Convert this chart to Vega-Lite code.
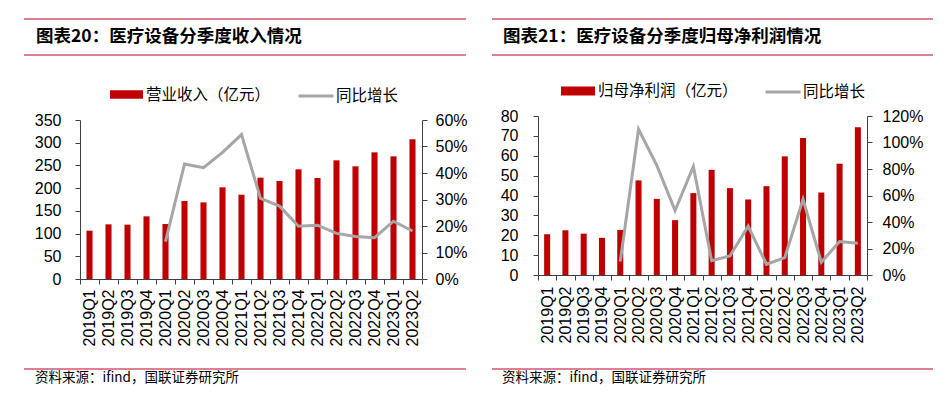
{
  "$schema": "https://vega.github.io/schema/vega-lite/v6.json",
  "padding": {"left": 23, "top": 18, "right": 0, "bottom": 0},
  "background": "white",
  "config": {
    "view": {"stroke": null},
    "font": "Liberation Sans",
    "axis": {"grid": false, "domainColor": "#404040", "tickColor": "#404040", "labelColor": "#000000", "labelFont": "Liberation Sans", "labelFontSize": 16, "tickSize": 5, "title": null},
    "legend": {"labelFont": "Noto Sans CJK SC", "labelFontSize": 15.5, "labelColor": "#000000", "title": null}
  },
  "datasets": {
    "rev": [
      {"q": "2019Q1", "v": 106.4, "g": null},
      {"q": "2019Q2", "v": 120.3, "g": null},
      {"q": "2019Q3", "v": 119.6, "g": null},
      {"q": "2019Q4", "v": 137.9, "g": null},
      {"q": "2020Q1", "v": 121.0, "g": 0.141},
      {"q": "2020Q2", "v": 171.7, "g": 0.434},
      {"q": "2020Q3", "v": 168.7, "g": 0.420},
      {"q": "2020Q4", "v": 201.8, "g": 0.478},
      {"q": "2021Q1", "v": 185.6, "g": 0.545},
      {"q": "2021Q2", "v": 223.0, "g": 0.304},
      {"q": "2021Q3", "v": 215.7, "g": 0.275},
      {"q": "2021Q4", "v": 241.4, "g": 0.199},
      {"q": "2022Q1", "v": 222.3, "g": 0.203},
      {"q": "2022Q2", "v": 261.2, "g": 0.172},
      {"q": "2022Q3", "v": 248.0, "g": 0.160},
      {"q": "2022Q4", "v": 278.8, "g": 0.156},
      {"q": "2023Q1", "v": 270.0, "g": 0.218},
      {"q": "2023Q2", "v": 307.4, "g": 0.181}
    ],
    "np": [
      {"q": "2019Q1", "v": 20.5, "g": null},
      {"q": "2019Q2", "v": 22.5, "g": null},
      {"q": "2019Q3", "v": 20.8, "g": null},
      {"q": "2019Q4", "v": 18.7, "g": null},
      {"q": "2020Q1", "v": 22.7, "g": 0.101},
      {"q": "2020Q2", "v": 47.6, "g": 1.100},
      {"q": "2020Q3", "v": 38.3, "g": 0.827},
      {"q": "2020Q4", "v": 27.6, "g": 0.487},
      {"q": "2021Q1", "v": 41.2, "g": 0.819},
      {"q": "2021Q2", "v": 52.9, "g": 0.108},
      {"q": "2021Q3", "v": 43.7, "g": 0.144},
      {"q": "2021Q4", "v": 38.0, "g": 0.368},
      {"q": "2022Q1", "v": 44.7, "g": 0.081},
      {"q": "2022Q2", "v": 59.7, "g": 0.131},
      {"q": "2022Q3", "v": 68.9, "g": 0.572},
      {"q": "2022Q4", "v": 41.5, "g": 0.096},
      {"q": "2023Q1", "v": 56.0, "g": 0.252},
      {"q": "2023Q2", "v": 74.3, "g": 0.239}
    ],
    "edges": [{"p": 0}, {"p": 1}],
    "top": [{"p": 1}],
    "blank": [{"k": 0}],
    "t1": [{"t": "图表20：医疗设备分季度收入情况", "x": 0, "y": 0.5}],
    "t2": [{"t": "图表21：医疗设备分季度归母净利润情况", "x": 0, "y": 0.5}],
    "src": [{"t": "资料来源：ifind，国联证券研究所", "x": 0, "y": 0.5}]
  },
  "spacing": 23,
  "hconcat": [
    {
      "spacing": 22,
      "vconcat": [
        {
          "spacing": 21,
          "vconcat": [
            {
              "width": 442, "height": 36,
              "layer": [
                {
                  "data": {"name": "edges"},
                  "mark": {"type": "rule", "color": "#C0002A", "strokeWidth": 1.2},
                  "encoding": {"y": {"field": "p", "type": "quantitative", "scale": {"domain": [0, 1]}, "axis": null}}
                },
                {
                  "data": {"name": "t1"},
                  "mark": {"type": "text", "align": "left", "baseline": "middle", "dx": 12, "font": "Noto Sans CJK SC", "fontWeight": "bold", "fontSize": 17.5, "color": "#000000"},
                  "encoding": {
                    "x": {"field": "x", "type": "quantitative", "scale": {"domain": [0, 1]}, "axis": null},
                    "y": {"field": "y", "type": "quantitative", "scale": {"domain": [0, 1]}, "axis": null},
                    "text": {"field": "t"}
                  }
                }
              ]
            },
            {
              "spacing": 0,
              "hconcat": [
                {
                  "width": 10, "height": 159,
                  "data": {"name": "blank"},
                  "mark": {"type": "text"},
                  "encoding": {"text": {"value": ""}}
                },
                {
                  "width": 342, "height": 159,
                  "data": {"name": "rev"},
                  "encoding": {
                    "x": {"field": "q", "type": "nominal", "sort": null, "scale": {"paddingInner": 0, "paddingOuter": 0},
                          "axis": {"labelAngle": 270, "labelAlign": "right", "labelBaseline": "middle", "tickBand": "extent", "labelPadding": 5}}
                  },
                  "layer": [
                    {
                      "mark": {"type": "bar", "width": {"band": 0.32}},
                      "encoding": {
                        "y": {"field": "v", "type": "quantitative", "scale": {"domain": [0, 350]},
                              "axis": {"values": [0, 50, 100, 150, 200, 250, 300, 350], "labelPadding": 14}},
                        "fill": {"datum": "营业收入（亿元）", "type": "nominal", "scale": {"range": ["#C00000"]},
                                 "legend": {"orient": "none", "legendX": 30, "legendY": -42, "symbolType": "M-1,-0.26H1V0.26H-1Z", "symbolSize": 1089, "symbolStrokeWidth": 0, "labelOffset": 3}}
                      }
                    },
                    {
                      "mark": {"type": "line", "strokeWidth": 3},
                      "encoding": {
                        "y": {"field": "g", "type": "quantitative", "scale": {"domain": [0, 0.6]},
                              "axis": {"orient": "right", "format": ".0%", "values": [0, 0.1, 0.2, 0.3, 0.4, 0.5, 0.6], "labelPadding": 8}},
                        "stroke": {"datum": "同比增长", "type": "nominal", "scale": {"range": ["#A6A6A6"]},
                                   "legend": {"orient": "none", "legendX": 217, "legendY": -43, "symbolType": "stroke", "symbolSize": 1225, "symbolStrokeWidth": 3, "labelOffset": 1}}
                      }
                    }
                  ],
                  "resolve": {"scale": {"y": "independent", "fill": "independent", "stroke": "independent"}}
                }
              ]
            }
          ]
        },
        {
          "width": 442, "height": 18,
          "layer": [
            {
              "data": {"name": "top"},
              "mark": {"type": "rule", "color": "#C0002A", "strokeWidth": 1.2},
              "encoding": {"y": {"field": "p", "type": "quantitative", "scale": {"domain": [0, 1]}, "axis": null}}
            },
            {
              "data": {"name": "src"},
              "mark": {"type": "text", "align": "left", "baseline": "middle", "dx": 11, "font": "Noto Sans CJK SC", "fontSize": 13.5, "color": "#000000"},
              "encoding": {
                "x": {"field": "x", "type": "quantitative", "scale": {"domain": [0, 1]}, "axis": null},
                "y": {"field": "y", "type": "quantitative", "scale": {"domain": [0, 1]}, "axis": null},
                "text": {"field": "t"}
              }
            }
          ]
        }
      ]
    },
    {
      "spacing": 25,
      "vconcat": [
        {
          "spacing": 17,
          "vconcat": [
            {
              "width": 441, "height": 36,
              "layer": [
                {
                  "data": {"name": "edges"},
                  "mark": {"type": "rule", "color": "#C0002A", "strokeWidth": 1.2},
                  "encoding": {"y": {"field": "p", "type": "quantitative", "scale": {"domain": [0, 1]}, "axis": null}}
                },
                {
                  "data": {"name": "t2"},
                  "mark": {"type": "text", "align": "left", "baseline": "middle", "dx": 11, "font": "Noto Sans CJK SC", "fontWeight": "bold", "fontSize": 17.5, "color": "#000000"},
                  "encoding": {
                    "x": {"field": "x", "type": "quantitative", "scale": {"domain": [0, 1]}, "axis": null},
                    "y": {"field": "y", "type": "quantitative", "scale": {"domain": [0, 1]}, "axis": null},
                    "text": {"field": "t"}
                  }
                }
              ]
            },
            {
              "spacing": 0,
              "hconcat": [
                {
                  "width": 8, "height": 159,
                  "data": {"name": "blank"},
                  "mark": {"type": "text"},
                  "encoding": {"text": {"value": ""}}
                },
                {
                  "width": 329, "height": 159,
                  "data": {"name": "np"},
                  "encoding": {
                    "x": {"field": "q", "type": "nominal", "sort": null, "scale": {"paddingInner": 0, "paddingOuter": 0},
                          "axis": {"labelAngle": 270, "labelAlign": "right", "labelBaseline": "middle", "tickBand": "extent", "labelPadding": 6}}
                  },
                  "layer": [
                    {
                      "mark": {"type": "bar", "width": {"band": 0.33}},
                      "encoding": {
                        "y": {"field": "v", "type": "quantitative", "scale": {"domain": [0, 80]},
                              "axis": {"values": [0, 10, 20, 30, 40, 50, 60, 70, 80], "labelPadding": 15}},
                        "fill": {"datum": "归母净利润（亿元）", "type": "nominal", "scale": {"range": ["#C00000"]},
                                 "legend": {"orient": "none", "legendX": 23, "legendY": -42, "symbolType": "M-1,-0.26H1V0.26H-1Z", "symbolSize": 1156, "symbolStrokeWidth": 0, "labelOffset": 3}}
                      }
                    },
                    {
                      "mark": {"type": "line", "strokeWidth": 3},
                      "encoding": {
                        "y": {"field": "g", "type": "quantitative", "scale": {"domain": [0, 1.2]},
                              "axis": {"orient": "right", "format": ".0%", "values": [0, 0.2, 0.4, 0.6, 0.8, 1.0, 1.2], "labelPadding": 10}},
                        "stroke": {"datum": "同比增长", "type": "nominal", "scale": {"range": ["#A6A6A6"]},
                                   "legend": {"orient": "none", "legendX": 226, "legendY": -43, "symbolType": "stroke", "symbolSize": 1225, "symbolStrokeWidth": 3, "labelOffset": 1}}
                      }
                    }
                  ],
                  "resolve": {"scale": {"y": "independent", "fill": "independent", "stroke": "independent"}}
                }
              ]
            }
          ]
        },
        {
          "width": 441, "height": 18,
          "layer": [
            {
              "data": {"name": "top"},
              "mark": {"type": "rule", "color": "#C0002A", "strokeWidth": 1.2},
              "encoding": {"y": {"field": "p", "type": "quantitative", "scale": {"domain": [0, 1]}, "axis": null}}
            },
            {
              "data": {"name": "src"},
              "mark": {"type": "text", "align": "left", "baseline": "middle", "dx": 10, "font": "Noto Sans CJK SC", "fontSize": 13.5, "color": "#000000"},
              "encoding": {
                "x": {"field": "x", "type": "quantitative", "scale": {"domain": [0, 1]}, "axis": null},
                "y": {"field": "y", "type": "quantitative", "scale": {"domain": [0, 1]}, "axis": null},
                "text": {"field": "t"}
              }
            }
          ]
        }
      ]
    }
  ]
}
